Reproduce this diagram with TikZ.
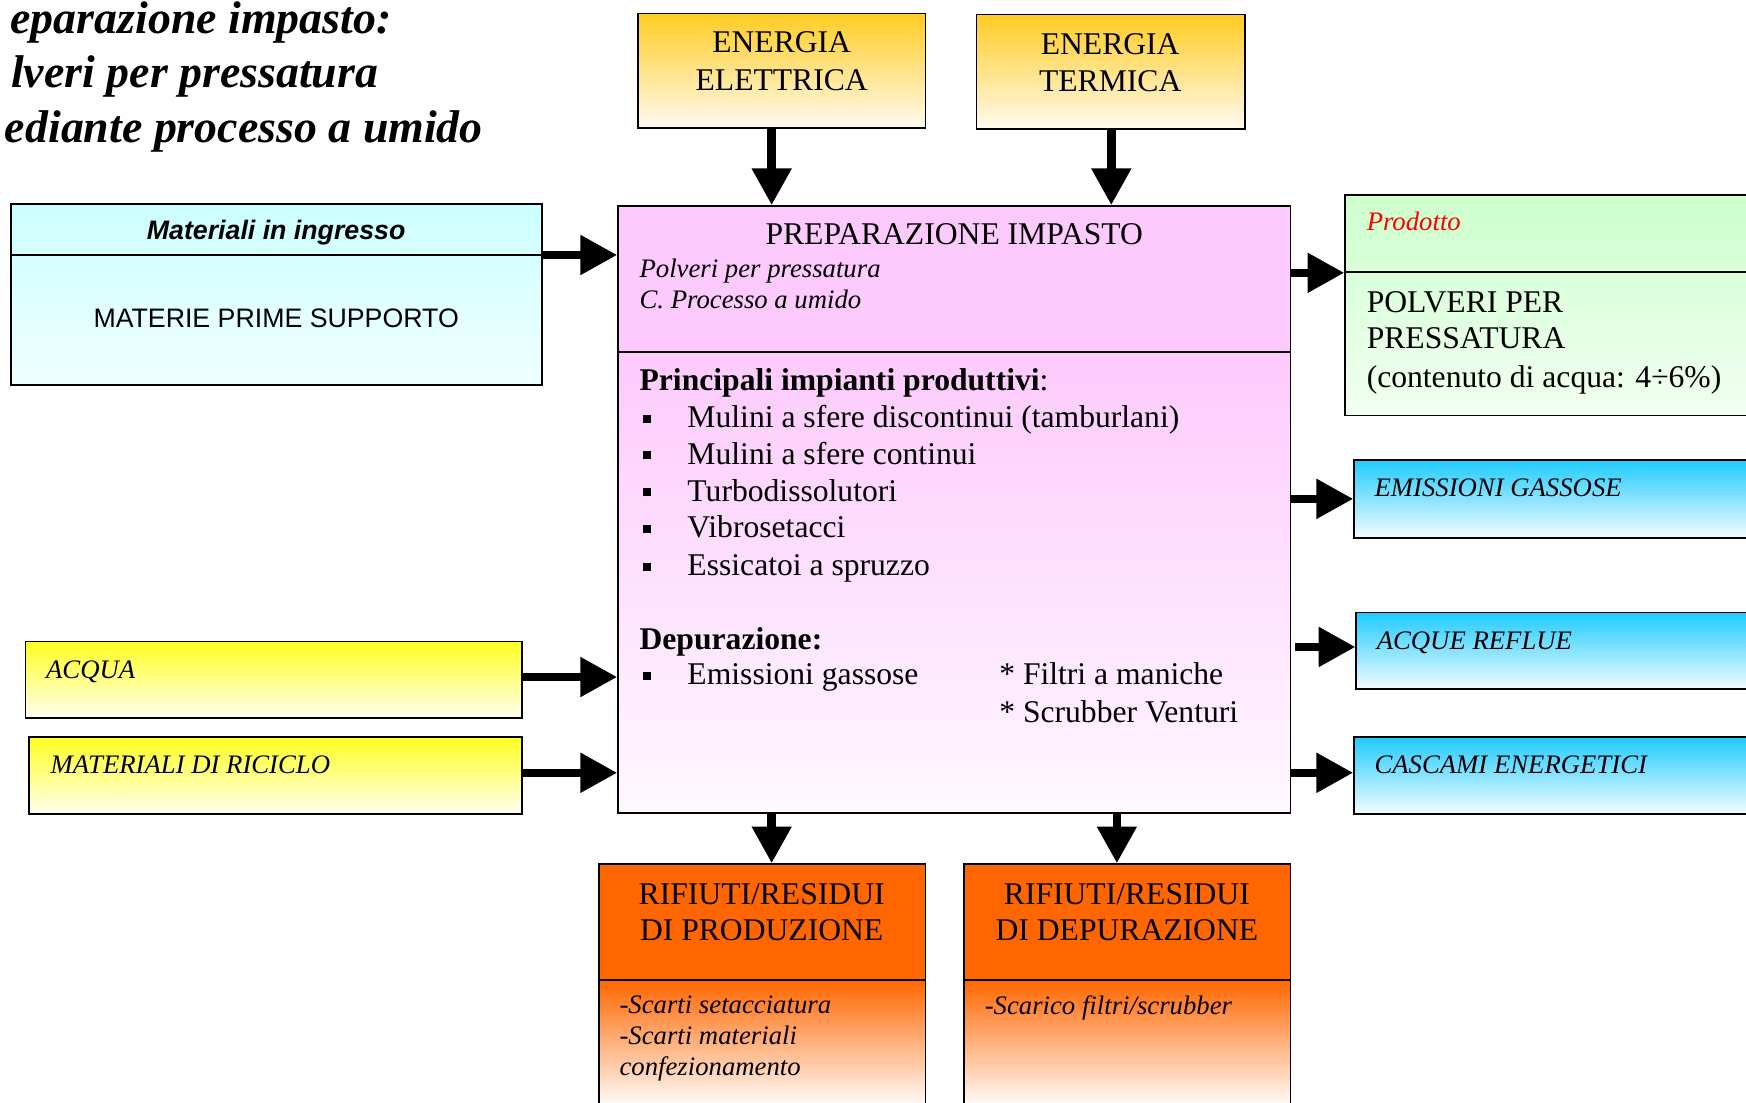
\documentclass[tikz,border=0pt]{standalone}
\usepackage{fontspec}
\setmainfont{Liberation Serif}
\setsansfont{Liberation Sans}
\usetikzlibrary{arrows.meta,fit}

\definecolor{pinkA}{RGB}{253,202,253}
\definecolor{pinkB}{RGB}{255,248,255}
\definecolor{goldA}{RGB}{255,204,34}
\definecolor{goldB}{RGB}{255,250,240}
\definecolor{cyanA}{RGB}{204,255,255}
\definecolor{cyanB}{RGB}{240,255,255}
\definecolor{greenA}{RGB}{204,255,204}
\definecolor{greenB}{RGB}{242,255,242}
\definecolor{blueA}{RGB}{30,203,255}
\definecolor{blueB}{RGB}{245,252,255}
\definecolor{yelA}{RGB}{255,255,34}
\definecolor{yelB}{RGB}{255,255,240}
\definecolor{oraA}{RGB}{255,102,0}

\newcommand\sqbul{\makebox[20.5pt][l]{\hspace{0.6pt}\raisebox{2.2pt}{\rule{3.6pt}{3.6pt}}}}

\begin{document}
\begin{tikzpicture}[x=0.5pt,y=-0.5pt,
  box/.style={draw=black,line width=0.75pt,inner sep=0pt},
  arr/.style={line width=3.8pt,-{Triangle[length=16.5pt,width=17pt]}},
  tser/.style={inner sep=0pt,font=\fontsize{14.2pt}{17pt}\selectfont},
  tbold/.style={inner sep=0pt,font=\fontsize{14.2pt}{17pt}\selectfont\bfseries},
  tital/.style={inner sep=0pt,font=\fontsize{12pt}{14pt}\selectfont\itshape},
  tsans/.style={inner sep=0pt,font=\fontsize{12pt}{14pt}\selectfont\sffamily},
  ttitle/.style={inner sep=0pt,font=\fontsize{20.6pt}{24pt}\selectfont\bfseries\itshape}
]
\useasboundingbox (0,0) rectangle (1568,990);
\clip (0,0) rectangle (1568,990);

% ---------- title ----------
\node[ttitle,anchor=base east] (t1) at (352,30) {eparazione impasto:};
\node[ttitle,anchor=base east] (t2) at (340,79) {lveri per pressatura};
\node[ttitle,anchor=base east] (t3) at (434,128) {ediante processo a umido};

% ---------- energy boxes ----------
\node[box,top color=goldA,bottom color=goldB,fit={(573,12) (831,115)}] (ee) {};
\node[tser,anchor=base] (ee1) at (702,47) {ENERGIA};
\node[tser,anchor=base] (ee2) at (702,81) {ELETTRICA};
\node[box,top color=goldA,bottom color=goldB,fit={(877,13) (1118,116)}] (et) {};
\node[tser,anchor=base] (et1) at (997,49) {ENERGIA};
\node[tser,anchor=base] (et2) at (997,82) {TERMICA};

% ---------- main box ----------
\fill[pinkA] (555,185) rectangle (1159,316);
\shade[top color=pinkA,bottom color=pinkB] (555,316) rectangle (1159,730);
\node[box,fit={(555,185) (1159,730)}] (main) {};
\coordinate (mdiv) at (0,316);
\draw[line width=0.75pt] (main.west |- mdiv) -- (main.east |- mdiv);
\node[tser,anchor=base] (m0) at (857,220) {PREPARAZIONE IMPASTO};
\node[tital,anchor=base west] (m1) at (574,249) {Polveri per pressatura};
\node[tital,anchor=base west] (m2) at (574,277) {C. Processo a umido};
\node[tser,anchor=base west] (m3) at (574,351) {\textbf{Principali impianti produttivi}:};
\node[tser,anchor=base west] (m4) at (576,384) {\sqbul Mulini a sfere discontinui (tamburlani)};
\node[tser,anchor=base west] (m5) at (576,417) {\sqbul Mulini a sfere continui};
\node[tser,anchor=base west] (m6) at (576,450) {\sqbul Turbodissolutori};
\node[tser,anchor=base west] (m7) at (576,483) {\sqbul Vibrosetacci};
\node[tser,anchor=base west] (m8) at (576,517) {\sqbul Essicatoi a spruzzo};
\node[tbold,anchor=base west] (m9) at (574,583) {Depurazione:};
\node[tser,anchor=base west] (m10) at (576,615) {\sqbul Emissioni gassose};
\node[tser,anchor=base west] (m11) at (897,615) {* Filtri a maniche};
\node[tser,anchor=base west] (m12) at (897,649) {* Scrubber Venturi};

% ---------- materiali in ingresso ----------
\node[box,top color=cyanA,bottom color=cyanB,fit={(10,183) (487,346)}] (mi) {};
\coordinate (midiv) at (0,229);
\draw[line width=0.75pt] (mi.west |- midiv) -- (mi.east |- midiv);
\node[tsans,anchor=base,font=\fontsize{12pt}{14pt}\selectfont\sffamily\bfseries\itshape] (mi1) at (248,215.5) {Materiali in ingresso};
\node[tsans,anchor=base] (mi2) at (248,294) {MATERIE PRIME SUPPORTO};

% ---------- prodotto ----------
\node[box,top color=greenA,bottom color=greenB,fit={(1208,175) (1600,373)}] (prod) {};
\coordinate (pdiv) at (0,244);
\draw[line width=0.75pt] (prod.west |- pdiv) -- (1600,244);
\node[tital,anchor=base west,text=red] (p0) at (1227,207) {Prodotto};
\node[tser,anchor=base west] (p1) at (1227,281) {POLVERI PER};
\node[tser,anchor=base west] (p2) at (1227,313) {PRESSATURA};
\node[tser,anchor=base west] (p3) at (1227,348) {(contenuto di acqua: 4÷6\%)};

% ---------- outputs (blue) ----------
\node[box,top color=blueA,bottom color=blueB,fit={(1216,413) (1600,483)}] (eg) {};
\node[tital,anchor=base west] (eg1) at (1234,446) {EMISSIONI GASSOSE};
\node[box,top color=blueA,bottom color=blueB,fit={(1218,550) (1600,619)}] (ar) {};
\node[tital,anchor=base west] (ar1) at (1236,583) {ACQUE REFLUE};
\node[box,top color=blueA,bottom color=blueB,fit={(1216,662) (1600,731)}] (ce) {};
\node[tital,anchor=base west] (ce1) at (1234,695) {CASCAMI ENERGETICI};

% ---------- inputs (yellow) ----------
\node[box,top color=yelA,bottom color=yelB,fit={(23,576) (469,645)}] (acq) {};
\node[tital,anchor=base west] (acq1) at (41,609) {ACQUA};
\node[box,top color=yelA,bottom color=yelB,fit={(26,662) (469,731)}] (mr) {};
\node[tital,anchor=base west] (mr1) at (45,695) {MATERIALI DI RICICLO};

% ---------- rifiuti ----------
\fill[oraA] (538,776) rectangle (831,880);
\shade[top color=oraA,bottom color=white] (538,880) rectangle (831,995);
\node[box,fit={(538,776) (831,1010)}] (rp) {};
\coordinate (rdivy) at (0,880);
\draw[line width=0.75pt] (rp.west |- rdivy) -- (rp.east |- rdivy);
\node[tser,anchor=base] (rp1) at (684,812) {RIFIUTI/RESIDUI};
\node[tser,anchor=base] (rp2) at (684,845) {DI PRODUZIONE};
\node[tital,anchor=base west] (rp3) at (556,910) {-Scarti setacciatura};
\node[tital,anchor=base west] (rp4) at (556,938) {-Scarti materiali};
\node[tital,anchor=base west] (rp5) at (556,966) {confezionamento};

\fill[oraA] (866,776) rectangle (1159,880);
\shade[top color=oraA,bottom color=white] (866,880) rectangle (1159,995);
\node[box,fit={(866,776) (1159,1010)}] (rd) {};
\draw[line width=0.75pt] (rd.west |- rdivy) -- (rd.east |- rdivy);
\node[tser,anchor=base] (rd1) at (1012,812) {RIFIUTI/RESIDUI};
\node[tser,anchor=base] (rd2) at (1012,845) {DI DEPURAZIONE};
\node[tital,anchor=base west] (rd3) at (884,911) {-Scarico filtri/scrubber};

% ---------- connectors ----------
\coordinate (xee) at (693,0);
\coordinate (xet) at (998,0);
\coordinate (xrp) at (693,0);
\coordinate (xrd) at (1003,0);
\coordinate (ymi) at (0,229);
\coordinate (yacq) at (0,608);
\coordinate (ymr) at (0,694);
\coordinate (yprod) at (0,245);
\coordinate (yeg) at (0,448);
\coordinate (yar) at (0,581);
\coordinate (yce) at (0,694);

\draw[arr] (ee.south -| xee) -- (main.north -| xee);
\draw[arr] (et.south -| xet) -- (main.north -| xet);
\draw[arr] (mi.east |- ymi) -- (main.west |- ymi);
\draw[arr] (acq.east |- yacq) -- (main.west |- yacq);
\draw[arr] (mr.east |- ymr) -- (main.west |- ymr);
\draw[arr] (main.east |- yprod) -- (prod.west |- yprod);
\draw[arr] (main.east |- yeg) -- (eg.west |- yeg);
\draw[arr] ([xshift=1.5pt]main.east |- yar) -- (ar.west |- yar);
\draw[arr] (main.east |- yce) -- (ce.west |- yce);
\draw[arr] (main.south -| xrp) -- (rp.north -| xrp);
\draw[arr] (main.south -| xrd) -- (rd.north -| xrd);
\end{tikzpicture}
\end{document}
